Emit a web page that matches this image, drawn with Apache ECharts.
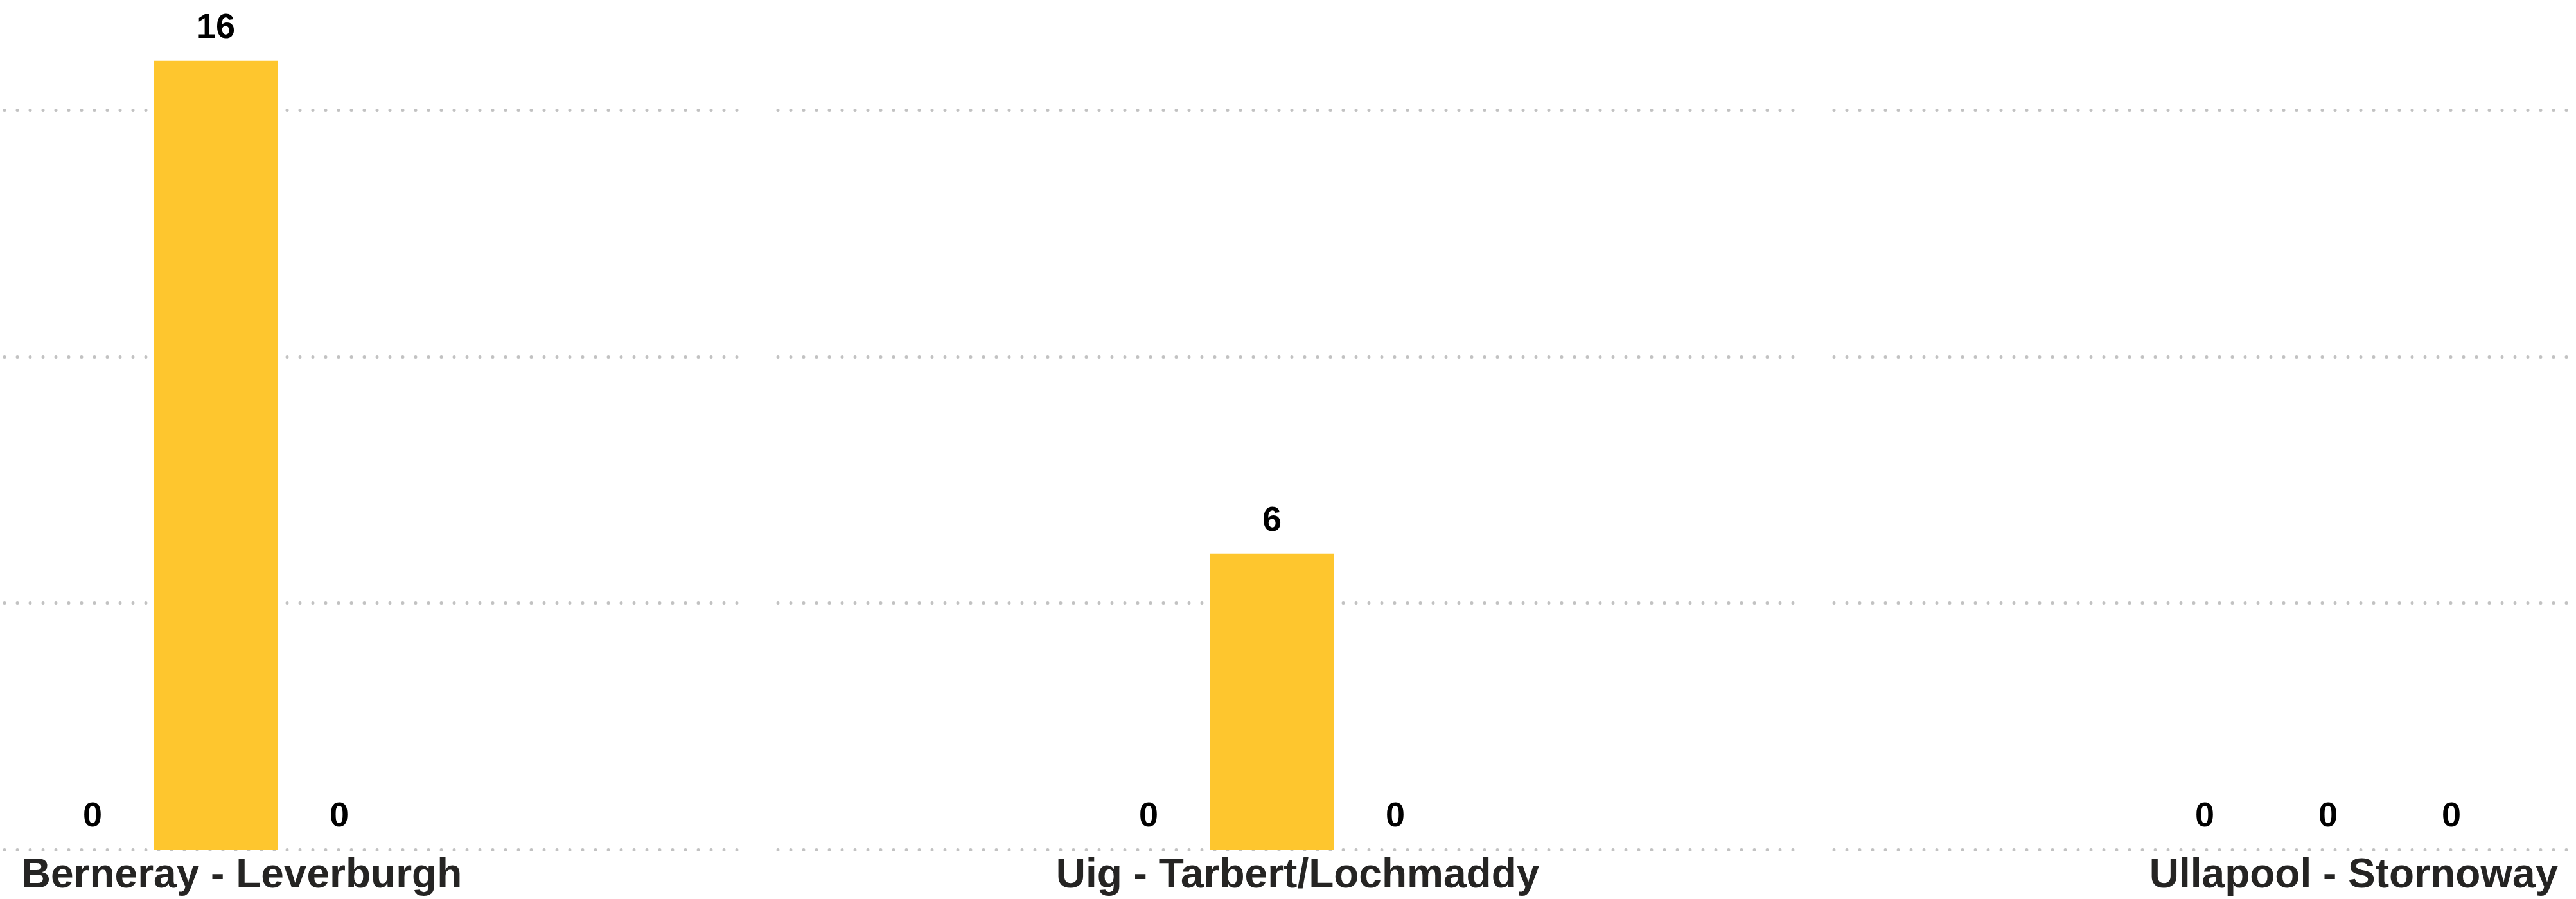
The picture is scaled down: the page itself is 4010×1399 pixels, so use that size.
<!DOCTYPE html>
<html>
<head>
    <meta charset="UTF-8">
    <title>Routes</title>
    <script src="https://cdn.jsdelivr.net/npm/echarts@6/dist/echarts.min.js"></script>
    <style>
        html, body { margin: 0; padding: 0; background: #fff; }
        #main { width: 4010px; height: 1399px; }
    </style>
</head>
<body>
<div id="main"></div>
<script>
    // data
    var routes = ['Berneray - Leverburgh', 'Uig - Tarbert/Lochmaddy', 'Ullapool - Stornoway'];
    var seriesNames = ['Series A', 'Series B', 'Series C'];
    var valuesA = [0, 0, 0];
    var valuesB = [16, 6, 0];
    var valuesC = [0, 0, 0];
    var seriesColors = ['#118dff', '#fec62e', '#e66c37'];
    var yMax = 17;
    var yStep = 5;

    var font = "'Liberation Sans', Arial, sans-serif";
    var chart = echarts.init(document.getElementById('main'), null, {renderer: 'canvas'});

    // y scale shared by every grid: 0 sits at y=1322, 15 at y=171
    var gridTop = 18, gridBottom = 77;

    // three dotted gridline panels with small gaps between them
    var panels = [[7, 1141], [1211, 1582], [2855, 1149]];

    var grids = [], xAxes = [], yAxes = [];
    panels.forEach(function (p, i) {
        grids.push({left: p[0], width: p[1], top: gridTop, bottom: gridBottom, outerBoundsMode: 'none'});
        xAxes.push({type: 'value', gridIndex: i, show: false});
        yAxes.push({
            type: 'value', gridIndex: i, min: 0, max: yMax, interval: yStep,
            axisLine: {show: false}, axisTick: {show: false}, axisLabel: {show: false},
            splitLine: {
                show: true, showMaxLine: false,
                lineStyle: {color: '#c2c2c2', width: 5, type: [0, 20], cap: 'round'}
            }
        });
    });

    // the bar grid: bands of 1644px centred at 336, 1980, 3624
    grids.push({left: -486, width: 4932, top: gridTop, bottom: gridBottom, outerBoundsMode: 'none'});
    xAxes.push({
        type: 'category', gridIndex: 3, data: routes,
        axisLine: {show: false}, axisTick: {show: false},
        axisLabel: {
            interval: 0, margin: 9, color: '#252423',
            fontFamily: font, fontWeight: 'bold', fontSize: 64,
            padding: [0, 0, 0, 80]
        }
    });
    yAxes.push({
        type: 'value', gridIndex: 3, min: 0, max: yMax, interval: yStep, show: false,
        splitLine: {show: false}
    });

    var allValues = [valuesA, valuesB, valuesC];
    var series = allValues.map(function (vals, i) {
        return {
            name: seriesNames[i],
            type: 'bar',
            xAxisIndex: 3, yAxisIndex: 3,
            data: vals,
            barWidth: 192,
            barGap: '0%',
            itemStyle: {color: seriesColors[i]},
            label: {
                show: true, position: 'top', distance: 24,
                color: '#000', fontFamily: font, fontWeight: 'bold', fontSize: 54
            }
        };
    });

    chart.setOption({
        backgroundColor: '#fff',
        animation: false,
        grid: grids,
        xAxis: xAxes,
        yAxis: yAxes,
        series: series
    });
</script>
</body>
</html>
